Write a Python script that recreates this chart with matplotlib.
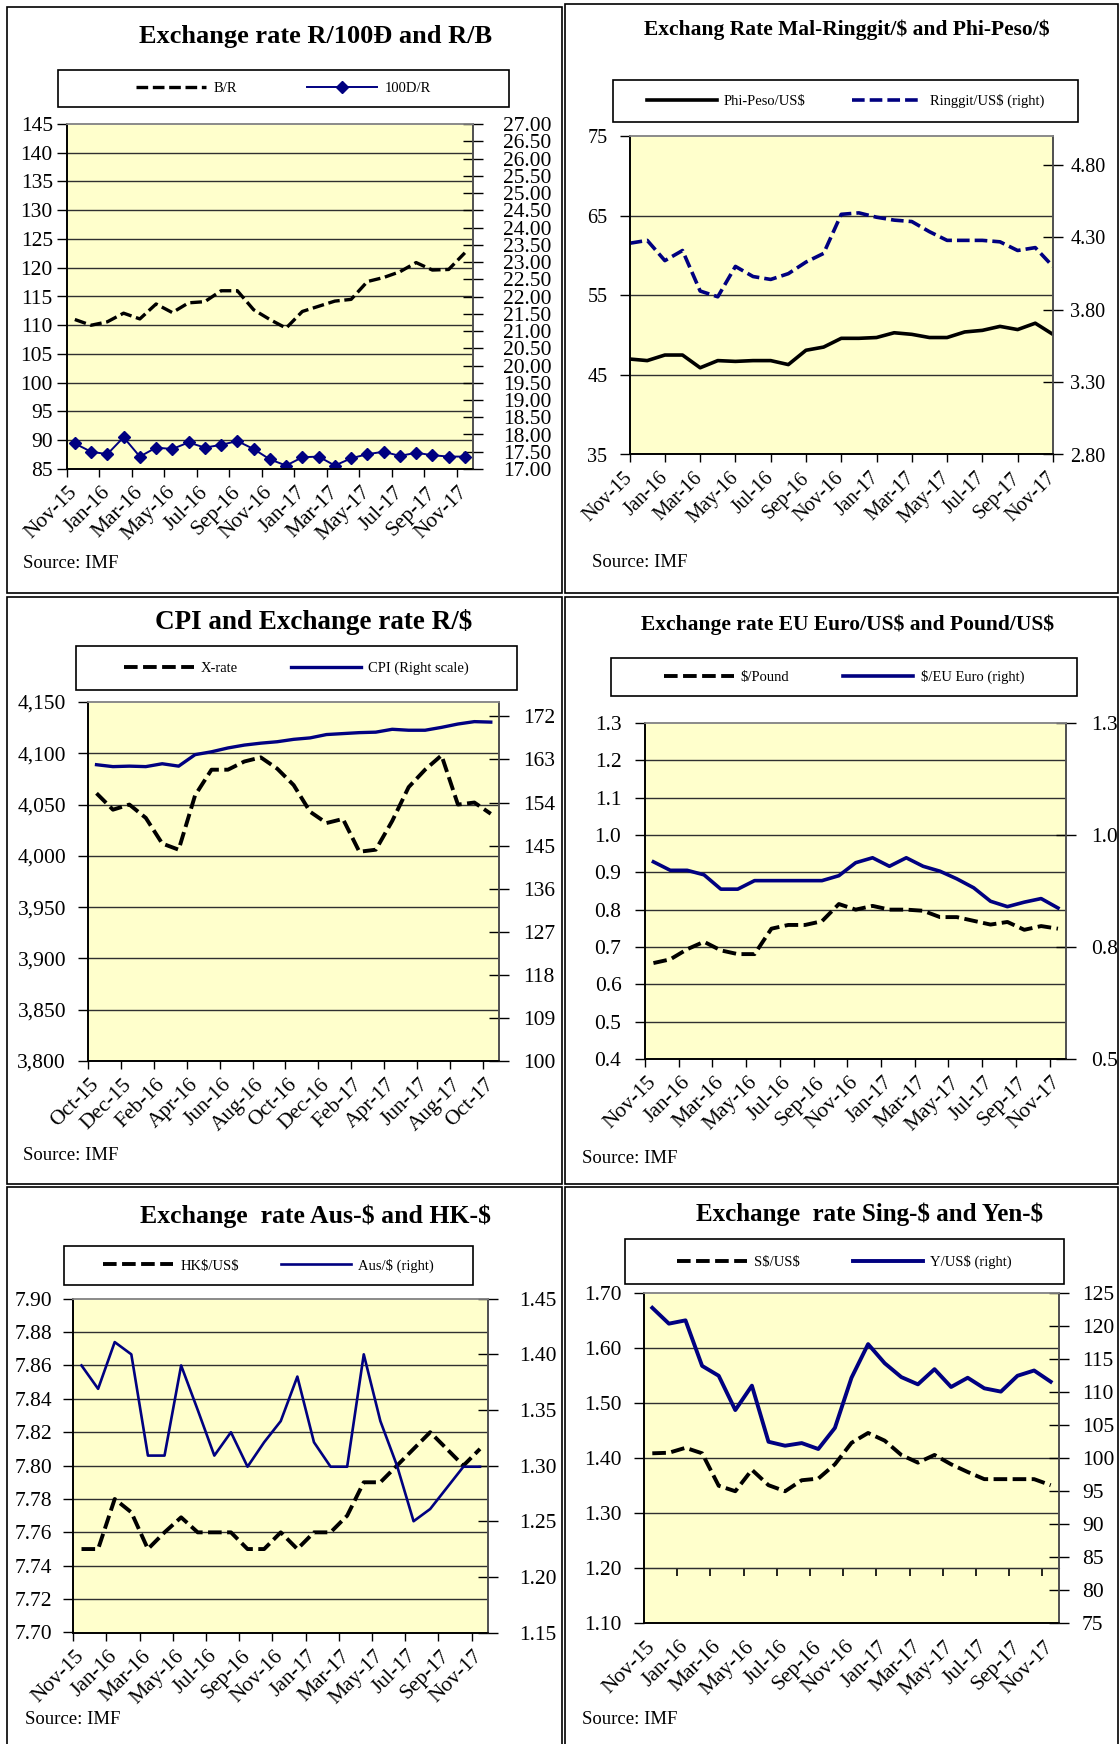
import numpy as np
import matplotlib
matplotlib.use("Agg")
import matplotlib.pyplot as plt
from matplotlib.patches import Rectangle

plt.rcParams['font.family'] = ['Liberation Serif', 'DejaVu Serif']
plt.rcParams['text.parse_math'] = False

W, H = 1120, 1744
BLUE = '#000080'
YELLOW = '#FFFFCC'
GRID = '#303030'

# x labels (every second month)
labels_nov = ['Nov-15', 'Jan-16', 'Mar-16', 'May-16', 'Jul-16', 'Sep-16', 'Nov-16',
              'Jan-17', 'Mar-17', 'May-17', 'Jul-17', 'Sep-17', 'Nov-17']
labels_oct = ['Oct-15', 'Dec-15', 'Feb-16', 'Apr-16', 'Jun-16', 'Aug-16', 'Oct-16',
              'Dec-16', 'Feb-17', 'Apr-17', 'Jun-17', 'Aug-17', 'Oct-17']

# Panel 1: Riel per Baht / per 100 Dong
baht_riel = [111.0, 110.0, 110.6, 112.1, 111.1, 113.7, 112.2, 113.9, 114.1, 116.0, 116.0, 112.7, 111.0,
             109.5, 112.4, 113.3, 114.2, 114.5, 117.6, 118.3, 119.3, 120.9, 119.6, 119.7, 122.6]
dong_riel = [17.74, 17.50, 17.43, 17.92, 17.36, 17.62, 17.58, 17.77, 17.62, 17.70, 17.81, 17.58, 17.28,
             17.10, 17.34, 17.36, 17.10, 17.31, 17.43, 17.50, 17.38, 17.47, 17.40, 17.36, 17.36]

# Panel 2: Peso and Ringgit
peso = [47.0, 46.8, 47.5, 47.5, 45.9, 46.8, 46.7, 46.8, 46.8, 46.3, 48.1, 48.5, 49.6,
        49.6, 49.7, 50.3, 50.1, 49.7, 49.7, 50.4, 50.6, 51.1, 50.7, 51.5, 50.1]
ringgit = [4.26, 4.28, 4.14, 4.21, 3.93, 3.89, 4.10, 4.03, 4.01, 4.05, 4.13, 4.19, 4.46,
           4.47, 4.44, 4.42, 4.41, 4.34, 4.28, 4.28, 4.28, 4.27, 4.21, 4.23, 4.10]

# Panel 3: Riel/US$ and CPI
xrate = [4061, 4045, 4050, 4037, 4012, 4006, 4059, 4084, 4084, 4092, 4096, 4085, 4069,
         4043, 4032, 4036, 4004, 4006, 4034, 4067, 4084, 4098, 4050, 4052, 4041]
cpi = [161.9, 161.5, 161.6, 161.5, 162.1, 161.6, 164.0, 164.6, 165.4, 166.0, 166.4, 166.7, 167.2,
       167.5, 168.2, 168.4, 168.6, 168.7, 169.3, 169.1, 169.1, 169.7, 170.4, 170.9, 170.8]

# Panel 4: Pound and Euro
pound = [0.657, 0.667, 0.694, 0.714, 0.691, 0.681, 0.681, 0.749, 0.759, 0.759, 0.769, 0.815, 0.800,
         0.810, 0.800, 0.800, 0.797, 0.780, 0.780, 0.770, 0.760, 0.767, 0.746, 0.756, 0.749]
euro = [0.940, 0.921, 0.921, 0.911, 0.879, 0.879, 0.898, 0.898, 0.898, 0.898, 0.898, 0.909, 0.938,
        0.949, 0.930, 0.949, 0.930, 0.919, 0.902, 0.882, 0.852, 0.840, 0.850, 0.858, 0.837]

# Panel 5: HK$ and Aus$
hkd = [7.750, 7.750, 7.780, 7.772, 7.750, 7.760, 7.769, 7.760, 7.760, 7.760, 7.750, 7.750, 7.760,
       7.750, 7.760, 7.760, 7.770, 7.790, 7.790, 7.800, 7.810, 7.820, 7.810, 7.800, 7.810]
aud = [1.390, 1.369, 1.411, 1.400, 1.309, 1.309, 1.390, 1.350, 1.309, 1.330, 1.299, 1.321, 1.340,
       1.380, 1.321, 1.299, 1.299, 1.400, 1.340, 1.300, 1.250, 1.261, 1.280, 1.299, 1.299]

# Panel 6: S$ and Yen
sgd = [1.409, 1.410, 1.419, 1.409, 1.350, 1.340, 1.379, 1.351, 1.340, 1.360, 1.363, 1.389, 1.428,
       1.446, 1.432, 1.406, 1.392, 1.406, 1.389, 1.375, 1.362, 1.362, 1.362, 1.362, 1.351]
yen = [122.8, 120.4, 120.9, 114.0, 112.5, 107.3, 111.0, 102.5, 101.9, 102.3, 101.4, 104.6, 112.2,
       117.3, 114.4, 112.3, 111.2, 113.5, 110.8, 112.2, 110.6, 110.1, 112.5, 113.3, 111.6]

months = np.arange(len(peso))


def fx(x):
    return x / W


def fy(y):
    return 1 - y / H


def add_panel(rect, ylim, yticks, ylabels, ylim2, yticks2, ylabels2, xlabels,
              between=True, fs=15, lpad=3, rpad=10, xpad=14):
    x0, y0, x1, y1 = rect
    ax = fig.add_axes([fx(x0), fy(y1), (x1 - x0) / W, (y1 - y0) / H])
    ax.set_facecolor(YELLOW)
    ax2 = ax.twinx()
    ax.set_ylim(*ylim)
    ax2.set_ylim(*ylim2)
    ax.set_yticks(yticks, labels=ylabels)
    ax2.set_yticks(yticks2, labels=ylabels2)
    for v in yticks:
        if ylim[0] < v < ylim[1] - 1e-9:
            ax.axhline(v, color=GRID, lw=1.0, zorder=0.8)
    if between:
        ax.set_xlim(-0.5, len(months) - 0.5)
        ax.set_xticks(months[::2], labels=xlabels)
        ax.set_xticks(np.arange(-0.5, len(months) - 1, 2), minor=True)
        ax.tick_params(axis='x', which='major', length=0, pad=xpad)
        ax.tick_params(axis='x', which='minor', length=6, width=1, direction='out')
    else:
        ax.set_xlim(0, len(months) - 1)
        ax.set_xticks(months[::2], labels=xlabels)
        ax.tick_params(axis='x', which='major', length=6, width=1, direction='out', pad=xpad - 6)
    ax.tick_params(axis='x', labelsize=fs)
    plt.setp(ax.get_xticklabels(), rotation=45, ha='right', va='center', rotation_mode='anchor')
    ax.tick_params(axis='y', direction='out', length=7, width=1, labelsize=fs, pad=lpad)
    ax2.tick_params(axis='y', direction='inout', length=15, width=1, labelsize=fs, pad=rpad)
    for a in (ax, ax2):
        a.spines['top'].set_color('#8a8a8a')
        a.spines['right'].set_color('#505050')
        a.spines['left'].set_color('black')
        a.spines['bottom'].set_color('black')
        for s in a.spines.values():
            s.set_linewidth(1.2)
    return ax, ax2


def legend_box(handles, names, rect, colsp):
    x0, y0, x1, y1 = rect
    fig.add_artist(Rectangle((fx(x0), fy(y1)), (x1 - x0) / W, (y1 - y0) / H,
                             transform=fig.transFigure, fill=False, ec='black', lw=1.2))
    fig.legend(handles, names, loc='center', bbox_to_anchor=(fx((x0 + x1) / 2), fy((y0 + y1) / 2)),
               ncol=2, frameon=False, fontsize=10.5, handlelength=4.8, handletextpad=0.5,
               columnspacing=colsp, borderpad=0, borderaxespad=0)


fig = plt.figure(figsize=(W / 100, H / 100), dpi=100)

# panel frames
frames = [(7, 7, 562, 593), (565, 4, 1118, 593),
          (7, 597, 562, 1184), (565, 597, 1118, 1184),
          (7, 1187, 562, 1748), (565, 1187, 1118, 1748)]
for x0, y0, x1, y1 in frames:
    fig.add_artist(Rectangle((fx(x0), fy(y1)), (x1 - x0) / W, (y1 - y0) / H,
                             transform=fig.transFigure, fill=False, ec='black', lw=1.2))

dash = (0, (3.5, 1.4))

# ---- Panel 1
t = np.arange(85, 146, 5)
t2 = np.round(np.arange(17, 27.01, 0.5), 2)
ax, ax2 = add_panel((66.7, 124, 473, 469), (85, 145), t, [str(v) for v in t],
                    (17, 27), t2, [f"{v:.2f}" for v in t2], labels_nov,
                    fs=15.5, lpad=3, rpad=14, xpad=15)
l1, = ax.plot(months, baht_riel, color='black', lw=2.4, linestyle=dash)
l2, = ax2.plot(months, dong_riel, color=BLUE, lw=1.4, marker='D', ms=6)
fig.text(fx(316), fy(36), 'Exchange rate R/100Đ and R/B', fontsize=19, fontweight='bold',
         ha='center', va='center')
legend_box([l1, l2], ['B/R', '100D/R'], (57.7, 69.6, 509, 107.2), 4.8)
fig.text(fx(23), fy(564), 'Source: IMF', fontsize=13.5, va='center')

# ---- Panel 2
t = np.arange(35, 76, 10)
t2 = [2.8, 3.3, 3.8, 4.3, 4.8]
ax, ax2 = add_panel((629.6, 136.2, 1052.9, 454.5), (35, 75), t, [str(v) for v in t],
                    (2.8, 5.0), t2, [f"{v:.2f}" for v in t2], labels_nov,
                    between=False, fs=14.5, lpad=9, rpad=5, xpad=15)
l1, = ax.plot(months, peso, color='black', lw=2.6, solid_joinstyle='round')
l2, = ax2.plot(months, ringgit, color=BLUE, lw=2.6, linestyle=dash)
fig.text(fx(847), fy(30), 'Exchang Rate Mal-Ringgit/$ and Phi-Peso/$', fontsize=15.5,
         fontweight='bold', ha='center', va='center')
legend_box([l1, l2], ['Phi-Peso/US$', 'Ringgit/US$ (right)'], (612.5, 80, 1078, 122), 3.2)
fig.text(fx(592), fy(562), 'Source: IMF', fontsize=13.5, va='center')

# ---- Panel 3
t = np.arange(3800, 4151, 50)
t2 = np.arange(100, 173, 9)
ax, ax2 = add_panel((88.3, 702, 499, 1061), (3800, 4150), t, [f"{v:,}" for v in t],
                    (100, 175), t2, [str(v) for v in t2], labels_oct,
                    fs=15.5, lpad=9, rpad=10, xpad=15)
l1, = ax.plot(months, xrate, color='black', lw=2.8, linestyle=dash)
l2, = ax2.plot(months, cpi, color=BLUE, lw=2.4, solid_joinstyle='round')
fig.text(fx(314), fy(622), 'CPI and Exchange rate R/$', fontsize=19.5, fontweight='bold',
         ha='center', va='center')
legend_box([l1, l2], ['X-rate', 'CPI (Right scale)'], (75.7, 646.4, 517, 689.7), 3.6)
fig.text(fx(23), fy(1156), 'Source: IMF', fontsize=13.5, va='center')

# ---- Panel 4
t = np.round(np.arange(0.4, 1.31, 0.1), 1)
t2 = [0.5, 0.75, 1.0, 1.25]
ax, ax2 = add_panel((645, 722.8, 1066.4, 1059.1), (0.4, 1.3), t, [f"{v:.1f}" for v in t],
                    (0.5, 1.25), t2, ['0.5', '0.8', '1.0', '1.3'], labels_nov,
                    fs=15.5, lpad=10, rpad=10, xpad=15)
l1, = ax.plot(months, pound, color='black', lw=2.8, linestyle=dash)
l2, = ax2.plot(months, euro, color=BLUE, lw=2.6, solid_joinstyle='round')
fig.text(fx(848), fy(625), 'Exchange rate EU Euro/US$ and Pound/US$', fontsize=15.5,
         fontweight='bold', ha='center', va='center')
legend_box([l1, l2], ['$/Pound', '$/EU Euro (right)'], (610.7, 657.7, 1077, 696.1), 3.7)
fig.text(fx(582), fy(1158), 'Source: IMF', fontsize=13.5, va='center')

# ---- Panel 5
t = np.round(np.arange(7.70, 7.901, 0.02), 2)
t2 = np.round(np.arange(1.15, 1.451, 0.05), 2)
ax, ax2 = add_panel((73.2, 1298.7, 488.3, 1632.5), (7.70, 7.90), t, [f"{v:.2f}" for v in t],
                    (1.15, 1.45), t2, [f"{v:.2f}" for v in t2], labels_nov,
                    fs=15.5, lpad=8, rpad=15, xpad=15)
l1, = ax.plot(months, hkd, color='black', lw=2.8, linestyle=dash)
l2, = ax2.plot(months, aud, color=BLUE, lw=1.9, solid_joinstyle='round')
fig.text(fx(316), fy(1216), 'Exchange  rate Aus-$ and HK-$', fontsize=18.5, fontweight='bold',
         ha='center', va='center')
legend_box([l1, l2], ['HK$/US$', 'Aus/$ (right)'], (64, 1245.8, 473, 1285.4), 2.9)
fig.text(fx(25), fy(1719), 'Source: IMF', fontsize=13.5, va='center')

# ---- Panel 6
t = np.round(np.arange(1.10, 1.701, 0.1), 2)
t2 = np.arange(75, 126, 5)
ax, ax2 = add_panel((644, 1293.3, 1059, 1623.2), (1.10, 1.70), t, [f"{v:.2f}" for v in t],
                    (75, 125), t2, [str(v) for v in t2], labels_nov,
                    fs=15.5, lpad=9, rpad=9, xpad=15)
ax.tick_params(axis='x', which='minor', length=0)
cross = ax.secondary_xaxis((1.20 - 1.10) / (1.70 - 1.10))
cross.set_xticks(np.arange(1.5, len(months) - 1, 2), labels=[])
cross.tick_params(axis='x', length=6, width=1.2, direction='out')
cross.spines['bottom'].set_color(GRID)
cross.spines['top'].set_visible(False)
l1, = ax.plot(months, sgd, color='black', lw=2.8, linestyle=dash)
l2, = ax2.plot(months, yen, color=BLUE, lw=2.8, solid_joinstyle='round')
fig.text(fx(870), fy(1214), 'Exchange  rate Sing-$ and Yen-$', fontsize=18, fontweight='bold',
         ha='center', va='center')
legend_box([l1, l2], ['S$/US$', 'Y/US$ (right)'], (625, 1239.4, 1063.6, 1284.3), 3.6)
fig.text(fx(582), fy(1719), 'Source: IMF', fontsize=13.5, va='center')

fig.savefig("out.png", dpi=100)
